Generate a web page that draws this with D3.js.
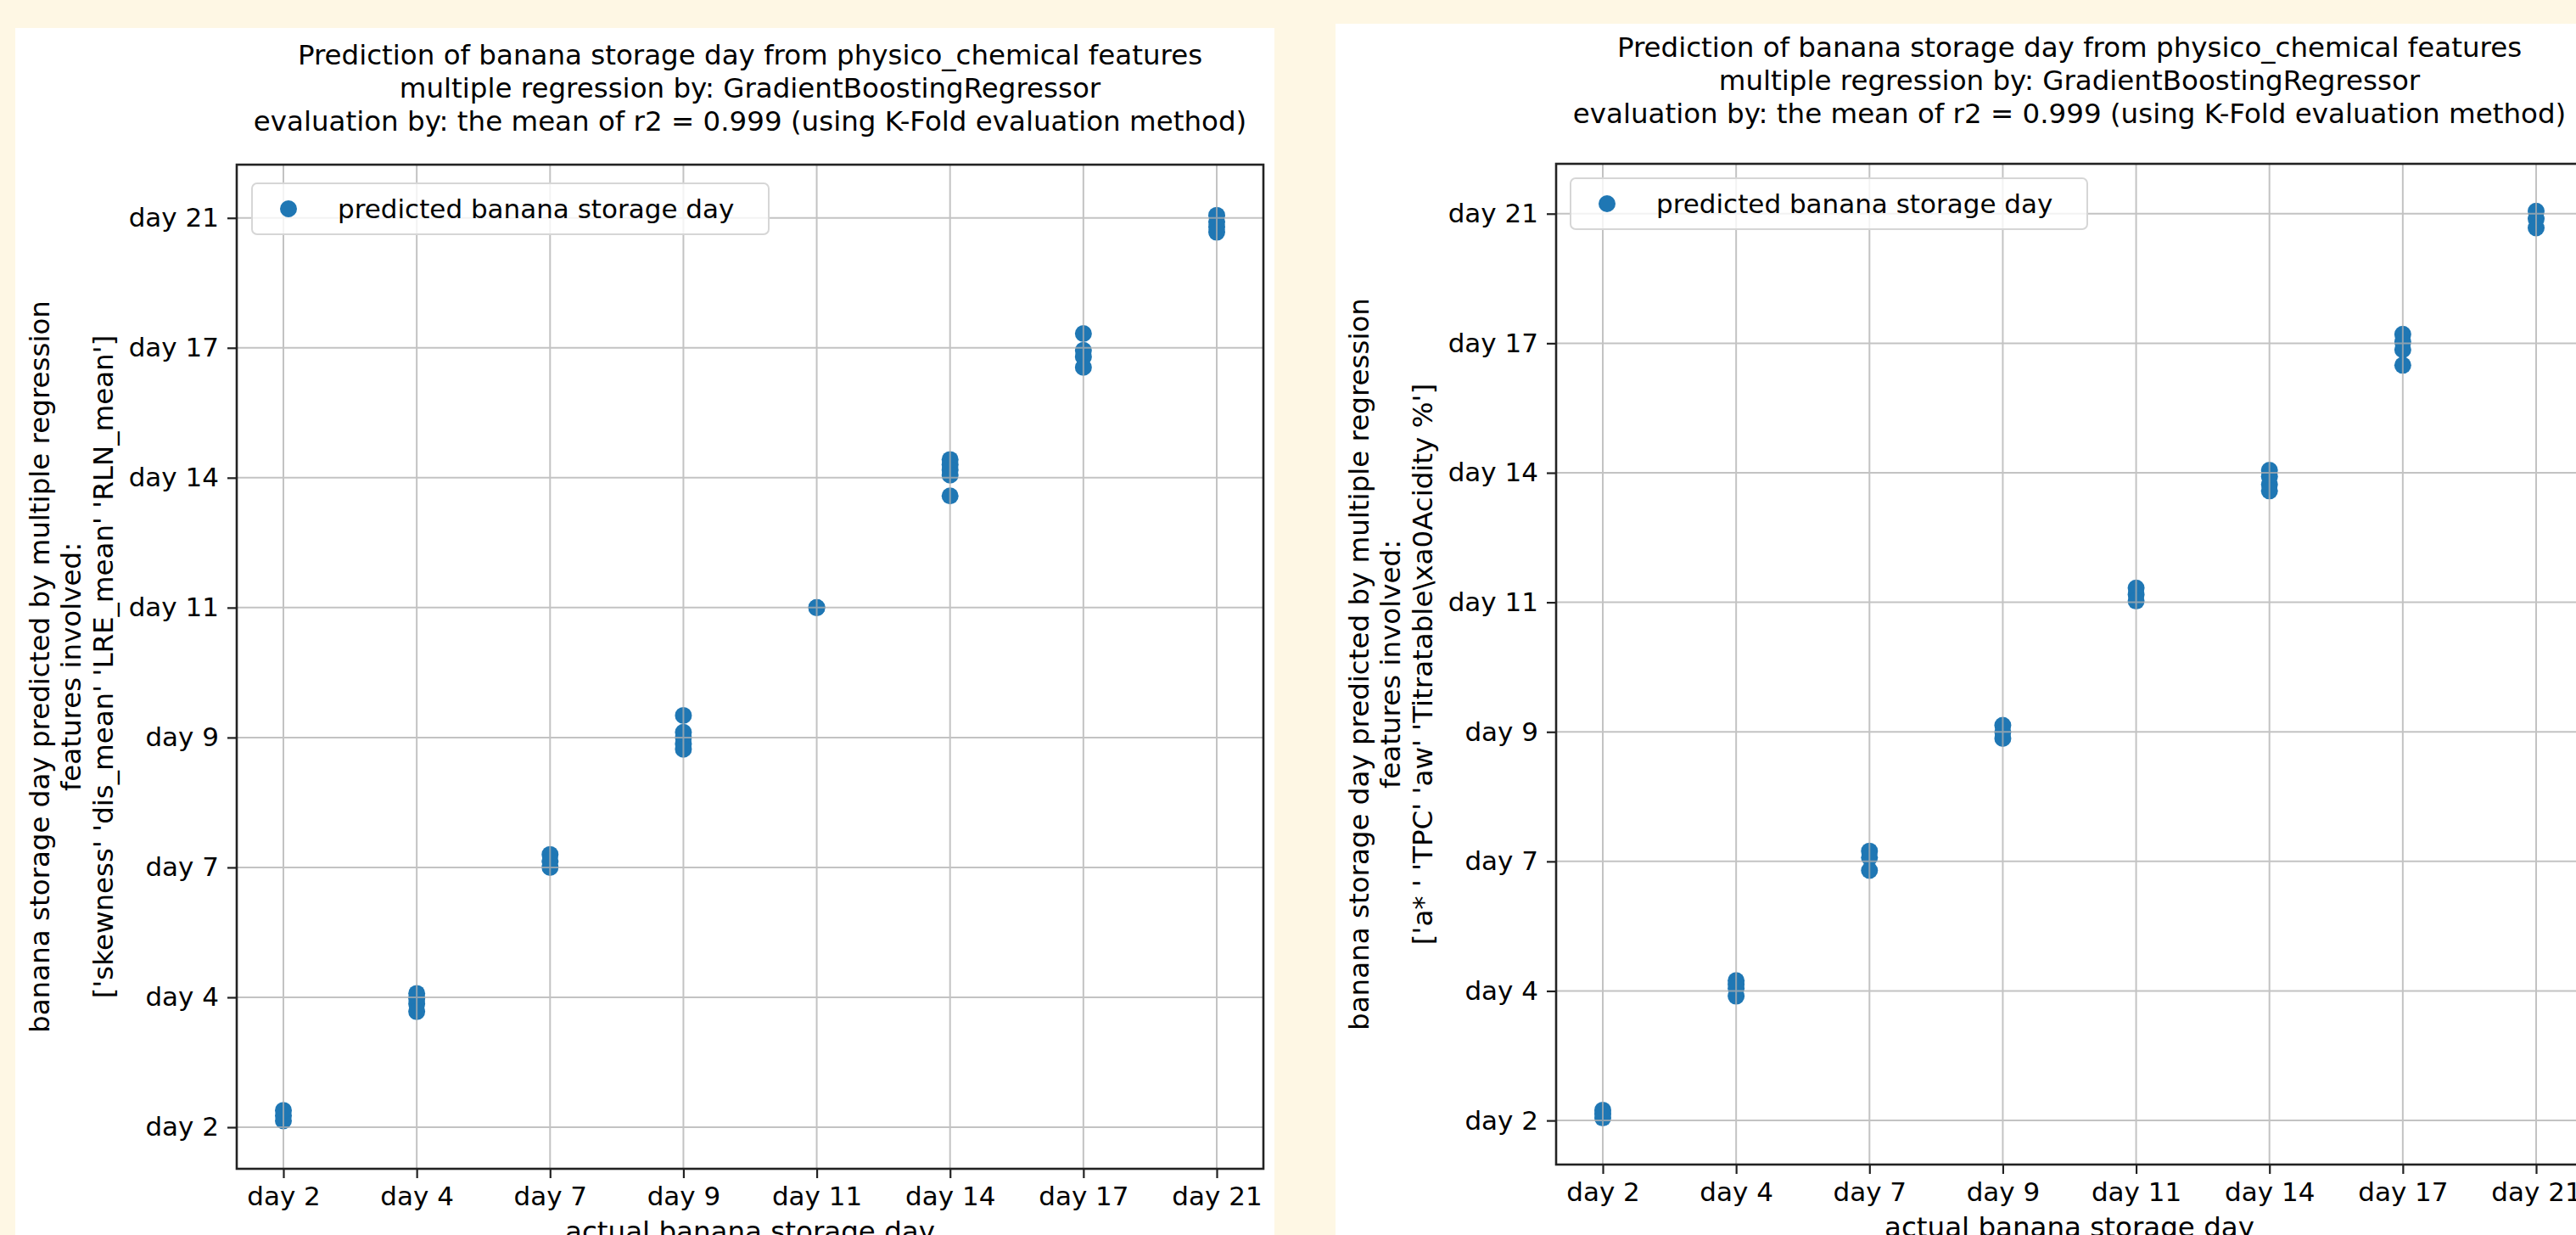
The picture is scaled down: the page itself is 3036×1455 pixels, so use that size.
<!DOCTYPE html>
<html>
<head>
<meta charset="utf-8">
<script src="https://cdn.jsdelivr.net/npm/d3@7"></script>
<style>
  html, body { margin: 0; padding: 0; background: #fef7e4; }
  svg { display: block; }
  text { font-family: "DejaVu Sans", sans-serif; fill: #000; }
</style>
</head>
<body>
<svg id="chart" width="3036" height="1455"></svg>
<script>
// ============================================================
// DATA
// ============================================================
const dayLabels = ['day 2', 'day 4', 'day 7', 'day 9', 'day 11', 'day 14', 'day 17', 'day 21'];

const titleLines = [
  'Prediction of banana storage day from physico_chemical features',
  'multiple regression by: GradientBoostingRegressor',
  'evaluation by: the mean of r2 = 0.999 (using K-Fold evaluation method)'
];

const xLabel = 'actual banana storage day';
const legendLabel = 'predicted banana storage day';

const yLabelLeft = [
  'banana storage day predicted by multiple regression',
  'features involved:',
  "['skewness' 'dis_mean' 'LRE_mean' 'RLN_mean']"
];
const yLabelRight = [
  'banana storage day predicted by multiple regression',
  'features involved:',
  "['a* ' 'TPC' 'aw' 'Titratable\\xa0Acidity %']"
];

// predicted values (in tick-index units), one list per actual day
const predictedLeft = [
  [0.05, 0.09, 0.13],
  [1.03, 0.99, 0.95, 0.89],
  [2.10, 2.05, 2.00],
  [3.17, 3.04, 3.00, 2.95, 2.91],
  [4.00, 4.00],
  [5.14, 5.10, 5.06, 5.02, 4.86],
  [6.11, 5.98, 5.93, 5.85],
  [7.02, 6.97, 6.93, 6.89]
];
const predictedRight = [
  [0.08, 0.05, 0.02],
  [1.08, 1.05, 1.02, 0.96],
  [2.08, 2.03, 1.93],
  [3.05, 3.00, 2.95],
  [4.11, 4.06, 4.01],
  [5.02, 4.97, 4.91, 4.86],
  [6.07, 6.01, 5.95, 5.83],
  [7.02, 6.96, 6.89]
];

// ============================================================
// LAYOUT
// ============================================================
const svg = d3.select('#chart');
const BLUE = '#1f77b4';
const FONT = 31;
const LABEL_FONT = 32.5;

svg.append('rect').attr('width', 3036).attr('height', 1455).attr('fill', '#fef7e4');

const panels = [
  { bg: [18, 33, 1484, 1500], ax: { left: 279, top: 194, w: 1210, h: 1183 },
    yLim: [-0.32, 7.41], titleY: 76, legendOff: [18, 22],
    yLabel: yLabelLeft, data: predictedLeft },
  { bg: [1574, 28, 1500, 1500], ax: { left: 1834, top: 193, w: 1210, h: 1179 },
    yLim: [-0.34, 7.385], titleY: 67, legendOff: [17, 17],
    yLabel: yLabelRight, data: predictedRight }
];

panels.forEach(drawPanel);

// ============================================================
// PANEL
// ============================================================
function drawPanel(p) {
  svg.append('rect')
    .attr('x', p.bg[0]).attr('y', p.bg[1])
    .attr('width', p.bg[2]).attr('height', p.bg[3])
    .attr('fill', '#fff');

  const { left, top, w, h } = p.ax;
  const g = svg.append('g').attr('transform', `translate(${left},${top})`);

  const x = d3.scaleLinear().domain([-0.35, dayLabels.length - 1 + 0.35]).range([0, w]);
  const y = d3.scaleLinear().domain(p.yLim).range([h, 0]);
  const ticks = d3.range(dayLabels.length);

  // points
  const pts = [];
  p.data.forEach((vals, i) => vals.forEach(v => pts.push({ x: i, y: v })));
  g.append('g').selectAll('circle').data(pts).join('circle')
    .attr('cx', d => x(d.x)).attr('cy', d => y(d.y))
    .attr('r', 10).attr('fill', BLUE);

  // grid (drawn over the markers, as in the original)
  const grid = g.append('g').attr('stroke', '#b0b0b0').attr('stroke-width', 2).attr('opacity', 0.75);
  grid.selectAll('.gx').data(ticks).join('line')
    .attr('x1', d => x(d)).attr('x2', d => x(d)).attr('y1', 0).attr('y2', h);
  grid.selectAll('.gy').data(ticks).join('line')
    .attr('y1', d => y(d)).attr('y2', d => y(d)).attr('x1', 0).attr('x2', w);

  // axes
  const xAxis = d3.axisBottom(x).tickValues(ticks).tickFormat(i => dayLabels[i])
    .tickSize(11).tickPadding(10).tickSizeOuter(0);
  const yAxis = d3.axisLeft(y).tickValues(ticks).tickFormat(i => dayLabels[i])
    .tickSize(11).tickPadding(10).tickSizeOuter(0);

  const gx = g.append('g').attr('transform', `translate(0,${h})`).call(xAxis);
  const gy = g.append('g').call(yAxis);
  [gx, gy].forEach(a => {
    a.select('.domain').remove();
    a.selectAll('.tick line').attr('stroke', '#222').attr('stroke-width', 2.2);
    a.selectAll('.tick text').attr('font-size', FONT).attr('font-family', '"DejaVu Sans", sans-serif').attr('fill', '#000');
  });

  // spines
  g.append('rect').attr('width', w).attr('height', h)
    .attr('fill', 'none').attr('stroke', '#222').attr('stroke-width', 2.6);

  // title
  const title = svg.append('text')
    .attr('x', left + w / 2).attr('y', p.titleY)
    .attr('text-anchor', 'middle').attr('font-size', LABEL_FONT);
  titleLines.forEach((t, i) => {
    title.append('tspan').attr('x', left + w / 2).attr('dy', i === 0 ? 0 : 39).text(t);
  });

  // x label (cut by the bottom edge, as in the original)
  svg.append('text')
    .attr('x', left + w / 2).attr('y', top + h + 85)
    .attr('text-anchor', 'middle').attr('font-size', LABEL_FONT)
    .text(xLabel);

  // y label (three centred lines)
  const ylab = svg.append('text')
    .attr('transform', `translate(${left - 195},${top + h / 2}) rotate(-90)`)
    .attr('text-anchor', 'middle').attr('dominant-baseline', 'central')
    .attr('font-size', LABEL_FONT);
  p.yLabel.forEach((t, i) => {
    ylab.append('tspan').attr('x', 0).attr('y', (i - 1) * 37.5).text(t);
  });

  // legend
  const lg = g.append('g').attr('transform', `translate(${p.legendOff[0]},${p.legendOff[1]})`);
  lg.append('rect').attr('width', 609).attr('height', 60).attr('rx', 6)
    .attr('fill', '#fff').attr('fill-opacity', 0.8)
    .attr('stroke', '#d6d6d6').attr('stroke-width', 2);
  lg.append('circle').attr('cx', 43).attr('cy', 30).attr('r', 10).attr('fill', BLUE);
  lg.append('text').attr('x', 101).attr('y', 30)
    .attr('dominant-baseline', 'central').attr('font-size', FONT)
    .text(legendLabel);
}
</script>
</body>
</html>
